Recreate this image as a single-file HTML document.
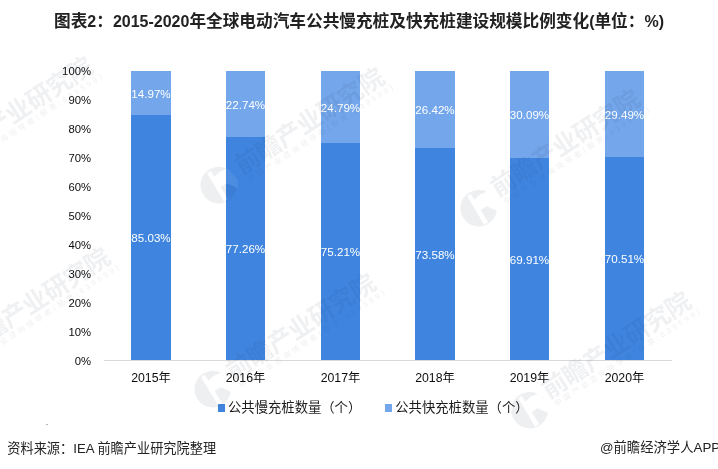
<!DOCTYPE html>
<html lang="zh-CN">
<head>
<meta charset="utf-8">
<title>图表2：2015-2020年全球电动汽车公共慢充桩及快充桩建设规模比例变化</title>
<style>
html,body{margin:0;padding:0;background:#fff;}
body{width:718px;height:469px;position:relative;overflow:hidden;font-family:"Liberation Sans","Noto Sans CJK SC",sans-serif;color:#222;}
.abs{position:absolute;white-space:nowrap;line-height:1;}
.title{left:54px;top:11.5px;font-size:16.67px;font-weight:700;color:#222;line-height:20px;}
.title span{font-size:16px;font-weight:bold;}
.yl{width:40px;text-align:right;font-size:11.3px;color:#0d0d0d;left:51px;}
.xl{width:80px;text-align:center;font-size:12.3px;color:#0d0d0d;top:372px;}
.bar{position:absolute;}
.dl{width:60px;text-align:center;font-size:11.6px;color:#fff;}
.axis{position:absolute;left:104px;top:360px;width:568px;height:1px;background:#d9d9d9;}
.lg{font-size:13.33px;color:#1a1a1a;top:401px;}
.sq{position:absolute;width:7px;height:7.5px;top:404px;}
.src{left:7.3px;top:441.5px;font-size:13.2px;color:#222;}
.app{left:600px;top:441px;font-size:13.33px;color:#222;}
.wm{position:absolute;width:0;height:0;transform:rotate(-33deg);transform-origin:0 0;color:#1a2540;pointer-events:none;}
.wm svg{position:absolute;left:-18.5px;top:-18.5px;opacity:.065;}
.wm b{position:absolute;left:22.5px;top:-19px;font-size:25px;line-height:1;font-weight:700;white-space:nowrap;letter-spacing:-0.5px;opacity:.062;}
.wm i{position:absolute;left:25px;top:5.5px;font-size:7.5px;line-height:1;font-style:normal;white-space:nowrap;letter-spacing:3.0px;opacity:.08;}
</style>
</head>
<body>
<div class="abs title">图表<span>2</span>：<span>2015-2020</span>年全球电动汽车公共慢充桩及快充桩建设规模比例变化<span>(</span>单位：<span>%)</span></div>
<div class="abs yl" style="top:355.5px">0%</div>
<div class="abs yl" style="top:326.5px">10%</div>
<div class="abs yl" style="top:297.5px">20%</div>
<div class="abs yl" style="top:268.5px">30%</div>
<div class="abs yl" style="top:239.5px">40%</div>
<div class="abs yl" style="top:210.5px">50%</div>
<div class="abs yl" style="top:181.5px">60%</div>
<div class="abs yl" style="top:152.5px">70%</div>
<div class="abs yl" style="top:123.5px">80%</div>
<div class="abs yl" style="top:94.5px">90%</div>
<div class="abs yl" style="top:65.5px">100%</div>
<div class="axis"></div>
<div class="bar" style="left:131.00px;top:71.0px;width:40px;height:44.00px;background:#73a6eb"></div>
<div class="bar" style="left:131.00px;top:115.00px;width:40px;height:245.00px;background:#3f85e0"></div>
<div class="abs dl" style="left:121.00px;top:88px">14.97%</div>
<div class="abs dl" style="left:121.00px;top:232px">85.03%</div>
<div class="abs xl" style="left:111.00px">2015年</div>
<div class="bar" style="left:226.00px;top:71.0px;width:39px;height:66.00px;background:#73a6eb"></div>
<div class="bar" style="left:226.00px;top:137.00px;width:39px;height:223.00px;background:#3f85e0"></div>
<div class="abs dl" style="left:215.50px;top:99px">22.74%</div>
<div class="abs dl" style="left:215.50px;top:243px">77.26%</div>
<div class="abs xl" style="left:205.50px">2016年</div>
<div class="bar" style="left:321.00px;top:71.0px;width:39px;height:72.00px;background:#73a6eb"></div>
<div class="bar" style="left:321.00px;top:143.00px;width:39px;height:217.00px;background:#3f85e0"></div>
<div class="abs dl" style="left:310.50px;top:102px">24.79%</div>
<div class="abs dl" style="left:310.50px;top:246px">75.21%</div>
<div class="abs xl" style="left:300.50px">2017年</div>
<div class="bar" style="left:415.00px;top:71.0px;width:40px;height:77.00px;background:#73a6eb"></div>
<div class="bar" style="left:415.00px;top:148.00px;width:40px;height:212.00px;background:#3f85e0"></div>
<div class="abs dl" style="left:405.00px;top:104px">26.42%</div>
<div class="abs dl" style="left:405.00px;top:249px">73.58%</div>
<div class="abs xl" style="left:395.00px">2018年</div>
<div class="bar" style="left:510.00px;top:71.0px;width:39px;height:87.00px;background:#73a6eb"></div>
<div class="bar" style="left:510.00px;top:158.00px;width:39px;height:202.00px;background:#3f85e0"></div>
<div class="abs dl" style="left:499.50px;top:109px">30.09%</div>
<div class="abs dl" style="left:499.50px;top:254px">69.91%</div>
<div class="abs xl" style="left:489.50px">2019年</div>
<div class="bar" style="left:605.00px;top:71.0px;width:39px;height:86.00px;background:#73a6eb"></div>
<div class="bar" style="left:605.00px;top:157.00px;width:39px;height:203.00px;background:#3f85e0"></div>
<div class="abs dl" style="left:594.50px;top:109px">29.49%</div>
<div class="abs dl" style="left:594.50px;top:253px">70.51%</div>
<div class="abs xl" style="left:584.50px">2020年</div>
<div class="sq" style="left:217.5px;background:#3f85e0"></div><div class="abs lg" style="left:228px">公共慢充桩数量（个）</div>
<div class="sq" style="left:385px;background:#73a6eb"></div><div class="abs lg" style="left:395.3px">公共快充桩数量（个）</div>
<div class="wm" style="left:218px;top:184.5px"><svg width="37" height="37" viewBox="-18.5 -18.5 37 37"><circle cx="0" cy="0" r="18.3" fill="currentColor"/><g transform="rotate(33)" fill="#fff"><path d="M-11.5 -12 L-8 -14.5 L9.5 14 L5.5 16.5 Z"/><path d="M-6 -7 L1 -13.5 L9 -17 L19 -6 L19 3 L8 -2 L0 3 Z"/></g></svg><b style="margin:3px 0 0 3px">前瞻产业研究院</b><i style="margin:3px 0 0 3px">中国产业咨询领导者(股票:839599)</i></div>
<div class="wm" style="left:478px;top:208.3px"><svg width="37" height="37" viewBox="-18.5 -18.5 37 37"><circle cx="0" cy="0" r="18.3" fill="currentColor"/><g transform="rotate(33)" fill="#fff"><path d="M-11.5 -12 L-8 -14.5 L9.5 14 L5.5 16.5 Z"/><path d="M-6 -7 L1 -13.5 L9 -17 L19 -6 L19 3 L8 -2 L0 3 Z"/></g></svg><b style="margin:0px 0 0 0px">前瞻产业研究院</b><i style="margin:0px 0 0 0px">中国产业咨询领导者(股票:839599)</i></div>
<div class="wm" style="left:212px;top:388.6px"><svg width="37" height="37" viewBox="-18.5 -18.5 37 37"><circle cx="0" cy="0" r="18.3" fill="currentColor"/><g transform="rotate(33)" fill="#fff"><path d="M-11.5 -12 L-8 -14.5 L9.5 14 L5.5 16.5 Z"/><path d="M-6 -7 L1 -13.5 L9 -17 L19 -6 L19 3 L8 -2 L0 3 Z"/></g></svg><b style="margin:3px 0 0 0px">前瞻产业研究院</b><i style="margin:3px 0 0 0px">中国产业咨询领导者(股票:839599)</i></div>
<div class="wm" style="left:529px;top:409.6px"><svg width="37" height="37" viewBox="-18.5 -18.5 37 37"><circle cx="0" cy="0" r="18.3" fill="currentColor"/><g transform="rotate(33)" fill="#fff"><path d="M-11.5 -12 L-8 -14.5 L9.5 14 L5.5 16.5 Z"/><path d="M-6 -7 L1 -13.5 L9 -17 L19 -6 L19 3 L8 -2 L0 3 Z"/></g></svg><b style="margin:0px 0 0 0px">前瞻产业研究院</b><i style="margin:0px 0 0 0px">中国产业咨询领导者(股票:839599)</i></div>
<div class="wm" style="left:-69.3px;top:174.6px"><svg width="37" height="37" viewBox="-18.5 -18.5 37 37"><circle cx="0" cy="0" r="18.3" fill="currentColor"/><g transform="rotate(33)" fill="#fff"><path d="M-11.5 -12 L-8 -14.5 L9.5 14 L5.5 16.5 Z"/><path d="M-6 -7 L1 -13.5 L9 -17 L19 -6 L19 3 L8 -2 L0 3 Z"/></g></svg><b style="margin:0px 0 0 0px">前瞻产业研究院</b><i style="margin:0px 0 0 0px">中国产业咨询领导者(股票:839599)</i></div>
<div class="wm" style="left:-52.5px;top:365.7px"><svg width="37" height="37" viewBox="-18.5 -18.5 37 37"><circle cx="0" cy="0" r="18.3" fill="currentColor"/><g transform="rotate(33)" fill="#fff"><path d="M-11.5 -12 L-8 -14.5 L9.5 14 L5.5 16.5 Z"/><path d="M-6 -7 L1 -13.5 L9 -17 L19 -6 L19 3 L8 -2 L0 3 Z"/></g></svg><b style="margin:0px 0 0 0px">前瞻产业研究院</b><i style="margin:0px 0 0 0px">中国产业咨询领导者(股票:839599)</i></div>
<div style="position:absolute;left:46px;top:424px;width:2px;height:1px;background:#b5b5b5"></div>
<div class="abs src">资料来源：IEA 前瞻产业研究院整理</div>
<div class="abs app">@前瞻经济学人APP</div>
</body>
</html>
